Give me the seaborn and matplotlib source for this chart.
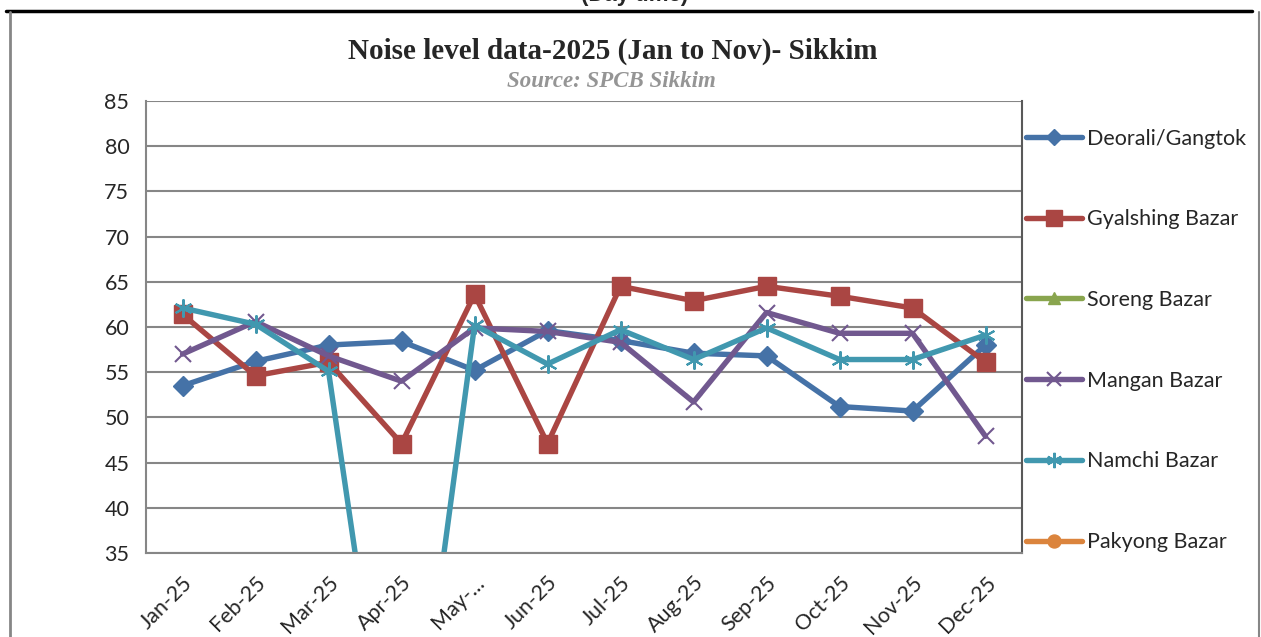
import numpy as np
import pandas as pd
import matplotlib
matplotlib.use("Agg")
import matplotlib.pyplot as plt
from matplotlib.lines import Line2D
import seaborn as sns

sns.set_style("white")
plt.rcParams['font.family'] = ['Lato', 'DejaVu Sans']

#%%== data
months = ['Jan-25', 'Feb-25', 'Mar-25', 'Apr-25', 'May-...', 'Jun-25',
          'Jul-25', 'Aug-25', 'Sep-25', 'Oct-25', 'Nov-25', 'Dec-25']
deorali  = [53.5, 56.2, 58.0, 58.4, 55.2, 59.6, 58.5, 57.1, 56.8, 51.2, 50.7, 58.0]
gyalshing = [61.4, 54.6, 56.1, 47.1, 63.6, 47.1, 64.5, 62.9, 64.5, 63.4, 62.1, 56.1]
soreng   = [np.nan] * 12
mangan   = [57.0, 60.6, 56.8, 54.0, 59.9, 59.5, 58.3, 51.7, 61.6, 59.3, 59.3, 47.9]
namchi   = [62.1, 60.3, 55.1, 0.0, 60.2, 55.9, 59.7, 56.4, 59.9, 56.4, 56.4, 59.1]
pakyong  = [np.nan] * 12

stations = ['Deorali/Gangtok', 'Gyalshing Bazar', 'Soreng Bazar',
            'Mangan Bazar', 'Namchi Bazar', 'Pakyong Bazar']
values = [deorali, gyalshing, soreng, mangan, namchi, pakyong]
colors = ['#4572A7', '#AA4643', '#89A54E', '#71588F', '#4198AF', '#DB843D']
markers = ['D', 's', '^', 'x', (6, 2, 0), 'o']
msizes = [10, 13, 11, 12, 13, 11]
mews = [1, 1, 1, 1.5, 1.5, 1]

df = pd.DataFrame({'month': months * len(stations),
                   'station': np.repeat(stations, len(months)),
                   'value': np.concatenate(values)})

#%%== plot
fig = plt.figure(figsize=(12.61, 6.37), dpi=100)
ax = fig.add_axes([0.1158, 0.1319, 0.6947, 0.7096])

handles = []
for st, c, m, ms, mew in zip(stations, colors, markers, msizes, mews):
    sub = df[df.station == st]
    if sub.value.notna().any():
        sns.lineplot(data=sub, x='month', y='value', ax=ax, color=c, sort=False,
                     linewidth=3.9, marker=m, markersize=ms, markeredgewidth=mew,
                     markeredgecolor=c, markerfacecolor=c)
    handles.append(Line2D([], [], color=c, lw=3.9, marker=m, markersize=ms * 0.85,
                          markeredgewidth=mew, markeredgecolor=c, markerfacecolor=c))

ax.set_xlim(-0.5, len(months) - 0.5)
ax.set_ylim(35, 85)
ax.set_yticks(range(35, 86, 5))
ax.set_xticks(range(len(months)))
ax.set_xticklabels(months, rotation=45, ha='right', rotation_mode='anchor', fontsize=15.5)
ax.set_xticks(np.arange(-0.5, len(months), 1), minor=True)
ax.tick_params(axis='x', which='major', length=0, pad=14)
ax.tick_params(axis='x', which='minor', length=6, width=1.5, color='#868686', direction='out')
ax.tick_params(axis='y', length=6, width=1.5, color='#868686', direction='out', labelsize=15.5, pad=6)
ax.set_xlabel('')
ax.set_ylabel('')
ax.grid(axis='y', color='#868686', linewidth=1.5)
ax.set_axisbelow(True)
for s in ['left', 'bottom']:
    ax.spines[s].set_color('#868686')
    ax.spines[s].set_linewidth(1.5)
ax.spines['top'].set_visible(False)
ax.spines['right'].set_color('#595959')
ax.spines['right'].set_linewidth(1.5)

ax.legend(handles, stations, loc='upper left', bbox_to_anchor=(0.995, 0.958),
          frameon=False, fontsize=15.5, handlelength=2.6, handletextpad=0.2,
          labelspacing=2.82, borderaxespad=0.0)

# titles
fig.text(0.486, 0.920, 'Noise level data-2025 (Jan to Nov)- Sikkim', ha='center', va='center',
         family='Liberation Serif', fontweight='bold', fontsize=21)
fig.text(0.485, 0.872, 'Source: SPCB Sikkim', ha='center', va='center',
         family='Liberation Serif', fontweight='bold', style='italic', fontsize=16.5, color='#959595')
fig.text(0.503, 1.0 + 4 / 637, '(Day time)', ha='center', va='center',
         family='Liberation Sans', fontweight='bold', fontsize=16)

# outer frame of the chart object
fig.add_artist(Line2D([6 / 1261, 1252 / 1261], [1 - 11 / 637] * 2, color='black', lw=2.5))
fig.add_artist(Line2D([10 / 1261] * 2, [0, 1 - 12 / 637], color='#868686', lw=2))
fig.add_artist(Line2D([1259 / 1261] * 2, [0, 1 - 12 / 637], color='#868686', lw=1.5))

plt.savefig('out.png', dpi=100)
